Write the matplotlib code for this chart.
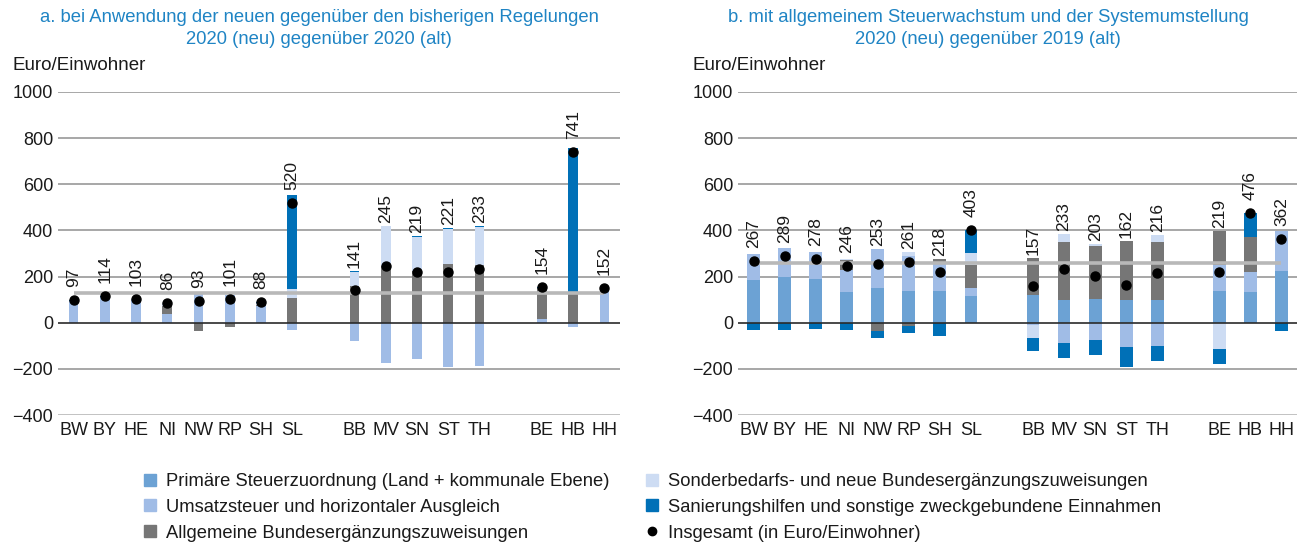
import numpy as np
import matplotlib
matplotlib.use("Agg")
import matplotlib.pyplot as plt
from matplotlib.lines import Line2D

plt.rcParams['font.family'] = ['Liberation Sans', 'DejaVu Sans']

# Länder, in drei Gruppen (West, Ost, Stadtstaaten)
states = ['BW', 'BY', 'HE', 'NI', 'NW', 'RP', 'SH', 'SL',
          'BB', 'MV', 'SN', 'ST', 'TH',
          'BE', 'HB', 'HH']
group_sizes = [8, 5, 3]

# a. 2020 (neu) gegenüber 2020 (alt)
primaer_a = [0, 0, 0, 0, 0, 0, 0, 0, 0, 0, 0, 0, 0, 0, 0, 0]
umsatz_a = [94, 112, 101, 37, 131, 118, 72, -32, -81, -176, -157, -190, -187, 15, -17, 150]
bez_a = [0, 0, 0, 37, -38, -19, 6, 109, 157, 247, 223, 254, 249, 135, 135, 0]
sonder_a = [0, 0, 0, 12, 0, 0, 8, 36, 63, 171, 148, 152, 168, 0, 0, 0]
sanierung_a = [3, 2, 2, 0, 0, 2, 2, 407, 2, 3, 5, 5, 3, 4, 623, 2]
total_a = [97, 114, 103, 86, 93, 101, 88, 520, 141, 245, 219, 221, 233, 154, 741, 152]
avg_a = 130

# b. 2020 (neu) gegenüber 2019 (alt)
primaer_b = [186, 197, 188, 134, 149, 136, 136, 114, 122, 100, 103, 97, 100, 136, 132, 226]
umsatz_b = [113, 125, 119, 96, 170, 152, 128, 38, -10, -90, -74, -104, -103, 112, 88, 172]
bez_b = [0, 0, 0, 42, -35, -14, 12, 99, 158, 252, 228, 259, 252, 151, 151, 0]
sonder_b = [0, 0, 0, 6, 0, 17, 0, 52, -55, 32, 10, 0, 29, -114, 0, 0]
sanierung_b = [-32, -33, -29, -32, -31, -30, -58, 100, -58, -61, -64, -90, -62, -66, 105, -36]
total_b = [267, 289, 278, 246, 253, 261, 218, 403, 157, 233, 203, 162, 216, 219, 476, 362]
avg_b = 257

labels = ['Primäre Steuerzuordnung (Land + kommunale Ebene)',
          'Umsatzsteuer und horizontaler Ausgleich',
          'Allgemeine Bundesergänzungszuweisungen',
          'Sonderbedarfs- und neue Bundesergänzungszuweisungen',
          'Sanierungshilfen und sonstige zweckgebundene Einnahmen',
          'Insgesamt (in Euro/Einwohner)']
colors = ['#6ca2d4', '#a0bce6', '#767676', '#cddcf3', '#0070b7']
title_color = '#1f84c4'

# x-Positionen mit einer Lücke zwischen den Gruppen
pos = []
start = 0
for g in group_sizes:
    pos += list(range(start, start + g))
    start += g + 1
pos = np.array(pos)


def draw_panel(ax, series, total, avg, width):
    pos_bottom = np.zeros(len(states))
    neg_bottom = np.zeros(len(states))
    for vals, col in zip(series, colors):
        vals = np.array(vals, dtype=float)
        p = np.where(vals > 0, vals, 0)
        n = np.where(vals < 0, vals, 0)
        ax.bar(pos, p, width, bottom=pos_bottom, color=col, zorder=2, linewidth=0)
        ax.bar(pos, n, width, bottom=neg_bottom, color=col, zorder=2, linewidth=0)
        pos_bottom += p
        neg_bottom += n

    for t in range(-400, 1001, 200):
        if t == 0:
            ax.axhline(0, color='#2a2a2a', lw=1.2, zorder=3)
        else:
            ax.axhline(t, color='#a0a0a0' if t > -400 else '#bdbdbd', lw=1.3, zorder=1)

    ax.plot([pos[0], pos[-1]], [avg, avg], color='#b8b8b8', lw=2.6, zorder=3,
            solid_capstyle='butt')
    ax.plot(pos, total, 'o', color='black', markersize=6.5, zorder=4)

    for x, top, t in zip(pos, pos_bottom, total):
        ly = max(top + 13, t + 56)
        ax.text(x, ly, str(t), rotation=90, ha='center', va='bottom',
                fontsize=12.5, color='#1a1a1a', zorder=5)

    ax.set_xlim(-0.5, 17.5)
    ax.set_ylim(-400, 1000)
    ax.set_yticks(range(-400, 1001, 200))
    ax.set_xticks(pos)
    ax.set_xticklabels(states)
    ax.tick_params(length=0, labelsize=13, colors='#1a1a1a')
    ax.tick_params(axis='x', pad=5)
    ax.tick_params(axis='y', pad=3.5)
    for s in ax.spines.values():
        s.set_visible(False)


fig = plt.figure(figsize=(13.03, 5.43), dpi=100)
ax1 = fig.add_axes([58 / 1303, 128 / 543, 562 / 1303, 323 / 543])
ax2 = fig.add_axes([738 / 1303, 128 / 543, 559 / 1303, 323 / 543])

draw_panel(ax1, [primaer_a, umsatz_a, bez_a, sonder_a, sanierung_a], total_a, avg_a, 0.31)
draw_panel(ax2, [primaer_b, umsatz_b, bez_b, sonder_b, sanierung_b], total_b, avg_b, 0.41)

fig.text(319 / 1303, 1 - 18 / 543, 'a. bei Anwendung der neuen gegenüber den bisherigen Regelungen',
         ha='center', va='center', fontsize=13.3, color=title_color)
fig.text(319 / 1303, 1 - 40 / 543, '2020 (neu) gegenüber 2020 (alt)',
         ha='center', va='center', fontsize=13.3, color=title_color)
fig.text(988 / 1303, 1 - 18 / 543, 'b. mit allgemeinem Steuerwachstum und der Systemumstellung',
         ha='center', va='center', fontsize=13.3, color=title_color)
fig.text(988 / 1303, 1 - 40 / 543, '2020 (neu) gegenüber 2019 (alt)',
         ha='center', va='center', fontsize=13.3, color=title_color)
fig.text(13 / 1303, 1 - 66 / 543, 'Euro/Einwohner', ha='left', va='center', fontsize=13.5,
         color='#1a1a1a')
fig.text(693 / 1303, 1 - 66 / 543, 'Euro/Einwohner', ha='left', va='center', fontsize=13.5,
         color='#1a1a1a')

handles = [Line2D([], [], marker='s', ls='none', color=c, markersize=8) for c in colors]
handles.append(Line2D([], [], marker='o', ls='none', color='black', markersize=6))
leg_kw = dict(loc='upper left', frameon=False, fontsize=13.2, handlelength=0.8,
              handletextpad=0.45, labelspacing=0.48, borderpad=0, borderaxespad=0,
              labelcolor='#1a1a1a')
fig.legend(handles[:3], labels[:3], bbox_to_anchor=(143 / 1303, 1 - 473 / 543), **leg_kw)
fig.legend(handles[3:], labels[3:], bbox_to_anchor=(645 / 1303, 1 - 473 / 543), **leg_kw)

fig.savefig('out.png', dpi=100)
